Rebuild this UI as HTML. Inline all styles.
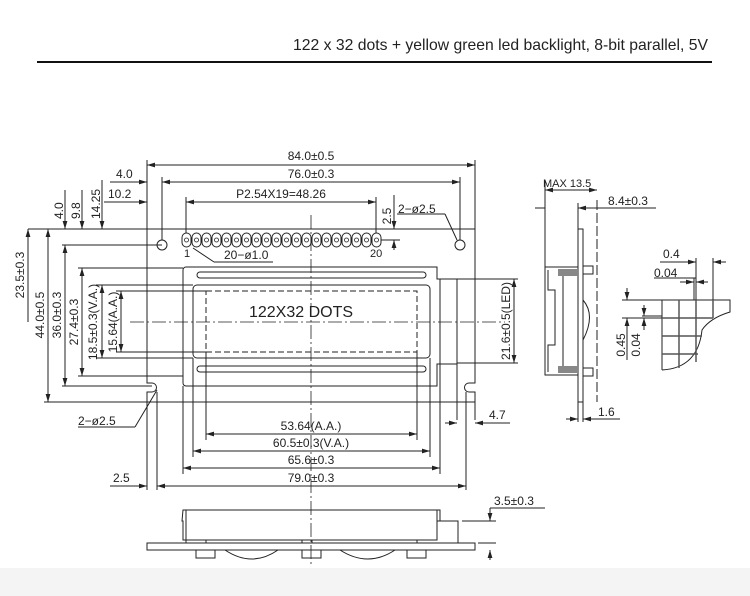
<!DOCTYPE html>
<html><head><meta charset="utf-8"><style>
html,body{margin:0;padding:0;background:#fff;width:750px;height:596px;overflow:hidden}
svg text{font-family:"Liberation Sans",sans-serif;fill:#222}
</style></head><body>
<svg width="750" height="596" viewBox="0 0 750 596" xmlns="http://www.w3.org/2000/svg">
<defs>
<marker id="a" viewBox="0 0 10 6" refX="10" refY="3" markerWidth="8" markerHeight="5" orient="auto-start-reverse"><path d="M0,0L10,3L0,6z" fill="#222"/></marker>
</defs>
<rect x="0" y="568" width="750" height="28" fill="#f4f4f4"/>
<text x="708" y="50" font-size="16" text-anchor="end" textLength="415" lengthAdjust="spacingAndGlyphs" fill="#111">122 x 32 dots + yellow green led backlight, 8-bit parallel, 5V</text>
<line x1="37" y1="62" x2="712" y2="62" stroke="#111" stroke-width="2"/>

<g stroke="#222" stroke-width="1" fill="none">
<path d="M147,229 H475 V383 H469 A4.5,4.5 0 0 0 469,392 H475 V402 H147 V392 H152 A4.5,4.5 0 0 0 152,383 H147 Z"/>
<circle cx="162" cy="245" r="5"/>
<circle cx="460" cy="245" r="5"/>
<g>
<rect x="182" y="233" width="9" height="14" rx="4.5"/><rect x="192" y="233" width="9" height="14" rx="4.5"/><rect x="202" y="233" width="9" height="14" rx="4.5"/><rect x="212" y="233" width="9" height="14" rx="4.5"/><rect x="222" y="233" width="9" height="14" rx="4.5"/><rect x="232" y="233" width="9" height="14" rx="4.5"/><rect x="242" y="233" width="9" height="14" rx="4.5"/><rect x="252" y="233" width="9" height="14" rx="4.5"/><rect x="262" y="233" width="9" height="14" rx="4.5"/><rect x="272" y="233" width="9" height="14" rx="4.5"/><rect x="282" y="233" width="9" height="14" rx="4.5"/><rect x="292" y="233" width="9" height="14" rx="4.5"/><rect x="302" y="233" width="9" height="14" rx="4.5"/><rect x="312" y="233" width="9" height="14" rx="4.5"/><rect x="322" y="233" width="9" height="14" rx="4.5"/><rect x="332" y="233" width="9" height="14" rx="4.5"/><rect x="342" y="233" width="9" height="14" rx="4.5"/><rect x="352" y="233" width="9" height="14" rx="4.5"/><rect x="362" y="233" width="9" height="14" rx="4.5"/><rect x="372" y="233" width="9" height="14" rx="4.5"/>
</g>
<g stroke-width="0.8">
<circle cx="186.5" cy="240" r="2"/><circle cx="196.5" cy="240" r="2"/><circle cx="206.5" cy="240" r="2"/><circle cx="216.5" cy="240" r="2"/><circle cx="226.5" cy="240" r="2"/><circle cx="236.5" cy="240" r="2"/><circle cx="246.5" cy="240" r="2"/><circle cx="256.5" cy="240" r="2"/><circle cx="266.5" cy="240" r="2"/><circle cx="276.5" cy="240" r="2"/><circle cx="286.5" cy="240" r="2"/><circle cx="296.5" cy="240" r="2"/><circle cx="306.5" cy="240" r="2"/><circle cx="316.5" cy="240" r="2"/><circle cx="326.5" cy="240" r="2"/><circle cx="336.5" cy="240" r="2"/><circle cx="346.5" cy="240" r="2"/><circle cx="356.5" cy="240" r="2"/><circle cx="366.5" cy="240" r="2"/><circle cx="376.5" cy="240" r="2"/>
</g>
<path d="M186,267 H437 V279 H440 V364 H437 V386 H186 A3,3 0 0 1 183,383 V270 A3,3 0 0 1 186,267 Z"/>
<rect x="440" y="279" width="17" height="85"/>
<rect x="197" y="272" width="229" height="6" rx="3"/>
<rect x="197" y="366" width="229" height="6" rx="3"/>
<rect x="193" y="285" width="237" height="73" rx="4"/>
<rect x="206" y="291" width="211" height="61" stroke-dasharray="6,3"/>
<line x1="311" y1="215" x2="311" y2="565" stroke-dasharray="14,3,2,3" stroke-width="0.8"/>
<line x1="130" y1="322" x2="505" y2="322" stroke-dasharray="14,3,2,3" stroke-width="0.8"/>

<line x1="147" y1="160" x2="147" y2="229"/><line x1="475" y1="160" x2="475" y2="229"/>
<line x1="147" y1="165" x2="475" y2="165" marker-start="url(#a)" marker-end="url(#a)"/>
<line x1="162" y1="177" x2="162" y2="240"/><line x1="460" y1="177" x2="460" y2="240"/>
<line x1="162" y1="182" x2="460" y2="182" marker-start="url(#a)" marker-end="url(#a)"/>
<line x1="186" y1="197" x2="186" y2="233"/><line x1="376" y1="197" x2="376" y2="233"/>
<line x1="186" y1="202" x2="376" y2="202" marker-start="url(#a)" marker-end="url(#a)"/>
<line x1="110" y1="182" x2="147" y2="182" marker-end="url(#a)"/>
<line x1="104" y1="202" x2="147" y2="202" marker-end="url(#a)"/>
<line x1="381" y1="240" x2="400" y2="240"/>
<line x1="394" y1="195" x2="394" y2="229" marker-end="url(#a)"/>
<line x1="394" y1="250" x2="394" y2="240" marker-end="url(#a)"/>
<line x1="397" y1="214" x2="445" y2="214"/><line x1="445" y1="214" x2="457" y2="240"/>
<line x1="193" y1="248" x2="214" y2="262"/><line x1="214" y1="262" x2="273" y2="262"/>
<line x1="28" y1="229" x2="147" y2="229"/>
<line x1="65" y1="190" x2="65" y2="229" marker-end="url(#a)"/>
<line x1="82" y1="190" x2="82" y2="229" marker-end="url(#a)"/>
<line x1="102" y1="180" x2="102" y2="229" marker-end="url(#a)"/>
<line x1="62" y1="245" x2="162" y2="245"/>
<line x1="78" y1="268" x2="183" y2="268"/>
<line x1="96" y1="285" x2="193" y2="285"/>
<line x1="116" y1="291" x2="206" y2="291"/>
<line x1="116" y1="352" x2="206" y2="352"/>
<line x1="96" y1="358" x2="193" y2="358"/>
<line x1="78" y1="376" x2="183" y2="376"/>
<line x1="62" y1="386" x2="152" y2="386"/>
<line x1="44" y1="402" x2="147" y2="402"/>
<line x1="28" y1="229" x2="28" y2="322" marker-start="url(#a)"/>
<line x1="48" y1="229" x2="48" y2="402" marker-start="url(#a)" marker-end="url(#a)"/>
<line x1="65" y1="245" x2="65" y2="386" marker-start="url(#a)" marker-end="url(#a)"/>
<line x1="82" y1="268" x2="82" y2="376" marker-start="url(#a)" marker-end="url(#a)"/>
<line x1="102" y1="285" x2="102" y2="358" marker-start="url(#a)" marker-end="url(#a)"/>
<line x1="121" y1="291" x2="121" y2="352" marker-start="url(#a)" marker-end="url(#a)"/>
<line x1="206" y1="352" x2="206" y2="440"/><line x1="417" y1="352" x2="417" y2="440"/>
<line x1="206" y1="434" x2="417" y2="434" marker-start="url(#a)" marker-end="url(#a)"/>
<line x1="193" y1="358" x2="193" y2="457"/><line x1="430" y1="358" x2="430" y2="457"/>
<line x1="193" y1="451" x2="430" y2="451" marker-start="url(#a)" marker-end="url(#a)"/>
<line x1="183" y1="386" x2="183" y2="474"/><line x1="440" y1="364" x2="440" y2="474"/>
<line x1="183" y1="468" x2="440" y2="468" marker-start="url(#a)" marker-end="url(#a)"/>
<line x1="157" y1="392" x2="157" y2="490"/><line x1="466" y1="392" x2="466" y2="490"/>
<line x1="157" y1="486" x2="466" y2="486" marker-start="url(#a)" marker-end="url(#a)"/>
<line x1="147" y1="402" x2="147" y2="490"/>
<line x1="110" y1="486" x2="147" y2="486" marker-end="url(#a)"/>
<line x1="457" y1="364" x2="457" y2="420"/>
<line x1="475" y1="402" x2="475" y2="420"/>
<line x1="445" y1="423" x2="457" y2="423" marker-end="url(#a)"/>
<line x1="510" y1="423" x2="475" y2="423" marker-end="url(#a)"/>
<line x1="78" y1="427" x2="135" y2="427"/><line x1="135" y1="427" x2="157" y2="390"/>
<line x1="457" y1="279" x2="518" y2="279"/><line x1="457" y1="363" x2="518" y2="363"/>
<line x1="514" y1="279" x2="514" y2="363" marker-start="url(#a)" marker-end="url(#a)"/>

<path d="M183,510 H440 V521 H437 V540 H183 V521 H182 Z" />
<line x1="186" y1="510" x2="186" y2="540"/><line x1="437" y1="510" x2="437" y2="521"/>
<rect x="147" y="543" width="328" height="7"/>
<path d="M186,540 V543 M437,521 H458 V543"/>
<rect x="206" y="540" width="96" height="3"/><rect x="312" y="540" width="105" height="3"/>
<path d="M196,550 V558 H215 V550 M302,550 V558 H321 V550 M407,550 V558 H426 V550"/>
<path d="M225,550 Q252,568 278,550 M340,550 Q368,568 395,550"/>
<line x1="490" y1="508" x2="490" y2="521" marker-end="url(#a)"/>
<line x1="490" y1="560" x2="490" y2="550" marker-end="url(#a)"/>
<line x1="462" y1="521" x2="496" y2="521"/><line x1="478" y1="543" x2="496" y2="543"/>
<line x1="490" y1="508" x2="545" y2="508"/>

<rect x="578" y="229" width="5" height="173"/>
<rect x="545" y="267" width="33" height="108"/>
<path d="M548,270 V290 H555 V345 H548 V372"/>
<rect x="558" y="269" width="20" height="7" fill="#888" stroke="none"/>
<rect x="558" y="366" width="20" height="7" fill="#888" stroke="none"/>
<line x1="563" y1="276" x2="563" y2="366"/>
<rect x="583" y="266" width="10" height="8"/><rect x="583" y="368" width="10" height="8"/>
<path d="M583,300 Q596,315 583,340"/>
<line x1="597" y1="200" x2="597" y2="402" stroke-dasharray="10,3"/>
<line x1="545" y1="180" x2="545" y2="267"/>
<line x1="545" y1="190" x2="597" y2="190" marker-start="url(#a)" marker-end="url(#a)"/>
<line x1="578" y1="203" x2="578" y2="229"/>
<line x1="656" y1="208" x2="578" y2="208" marker-end="url(#a)"/>
<line x1="535" y1="208" x2="545" y2="208"/>
<line x1="578" y1="402" x2="578" y2="422"/><line x1="583" y1="402" x2="583" y2="422"/>
<line x1="566" y1="419" x2="578" y2="419" marker-end="url(#a)"/>
<line x1="620" y1="419" x2="583" y2="419" marker-end="url(#a)"/>

<path d="M662,370 V300 H730 V312 Q710,318 702,330 Q698,368 662,370"/>
<g stroke-width="1.5" stroke="#555">
<line x1="679" y1="300" x2="679" y2="368"/><line x1="696" y1="300" x2="696" y2="362"/><line x1="713" y1="300" x2="713" y2="318"/>
<line x1="662" y1="318" x2="713" y2="318"/><line x1="662" y1="336" x2="702" y2="336"/><line x1="662" y1="354" x2="698" y2="354"/>
</g>
<line x1="660" y1="262" x2="696" y2="262"/><line x1="654" y1="278" x2="696" y2="278"/>
<line x1="696" y1="258" x2="696" y2="300"/><line x1="713" y1="258" x2="713" y2="300"/><line x1="694" y1="278" x2="694" y2="300"/>
<line x1="680" y1="262" x2="696" y2="262" marker-end="url(#a)"/>
<line x1="726" y1="262" x2="713" y2="262" marker-end="url(#a)"/>
<line x1="680" y1="282" x2="694" y2="282" marker-end="url(#a)"/>
<line x1="708" y1="282" x2="696" y2="282" marker-end="url(#a)"/>
<line x1="622" y1="300" x2="662" y2="300"/><line x1="622" y1="318" x2="662" y2="318"/><line x1="642" y1="316" x2="662" y2="316"/>
<line x1="627" y1="288" x2="627" y2="300" marker-end="url(#a)"/>
<line x1="627" y1="360" x2="627" y2="318" marker-end="url(#a)"/>
<line x1="644" y1="305" x2="644" y2="316" marker-end="url(#a)"/>
<line x1="644" y1="330" x2="644" y2="318" marker-end="url(#a)"/>
</g>

<g font-size="12">
<text x="311" y="160" text-anchor="middle">84.0±0.5</text>
<text x="311" y="178" text-anchor="middle">76.0±0.3</text>
<text x="281" y="198" text-anchor="middle">P2.54X19=48.26</text>
<text x="398" y="213">2−ø2.5</text>
<text x="224" y="259">20−ø1.0</text>
<text x="184" y="257" font-size="11">1</text>
<text x="370" y="257" font-size="11">20</text>
<text x="116" y="178">4.0</text>
<text x="108" y="198">10.2</text>
<text x="301" y="317" text-anchor="middle" font-size="16" fill="#333">122X32  DOTS</text>
<text x="311" y="430" text-anchor="middle">53.64(A.A.)</text>
<text x="311" y="447" text-anchor="middle">60.5±0.3(V.A.)</text>
<text x="311" y="464" text-anchor="middle">65.6±0.3</text>
<text x="311" y="482" text-anchor="middle">79.0±0.3</text>
<text x="113" y="482">2.5</text>
<text x="78" y="425">2−ø2.5</text>
<text x="489" y="419">4.7</text>
<text x="494" y="505">3.5±0.3</text>
<text x="543" y="187" font-size="11">MAX  13.5</text>
<text x="608" y="205">8.4±0.3</text>
<text x="598" y="416">1.6</text>
<text x="663" y="258">0.4</text>
<text x="654" y="277">0.04</text>
<g transform="rotate(-90)">
<text x="-219" y="63">4.0</text>
<text x="-219" y="80">9.8</text>
<text x="-219" y="100">14.25</text>
<text x="-275" y="24" text-anchor="middle">23.5±0.3</text>
<text x="-315" y="44" text-anchor="middle">44.0±0.5</text>
<text x="-315" y="61" text-anchor="middle">36.0±0.3</text>
<text x="-322" y="78" text-anchor="middle">27.4±0.3</text>
<text x="-322" y="97" text-anchor="middle">18.5±0.3(V.A.)</text>
<text x="-322" y="117" text-anchor="middle">15.64(A.A.)</text>
<text x="-321" y="510" text-anchor="middle">21.6±0.5(LED)</text>
<text x="-216" y="391" text-anchor="middle">2.5</text>
<text x="-345" y="625" text-anchor="middle">0.45</text>
<text x="-345" y="640" text-anchor="middle">0.04</text>
</g>
</g>
</svg>
</body></html>
